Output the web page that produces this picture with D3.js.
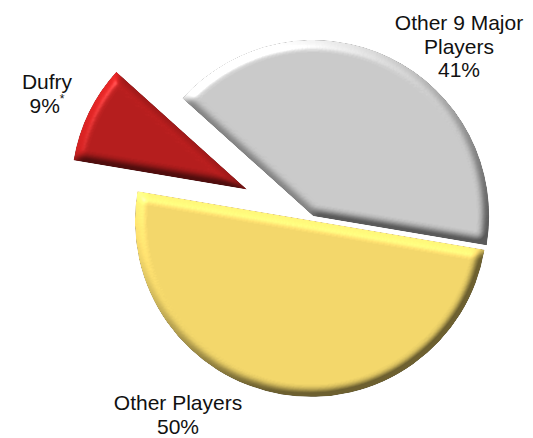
<!DOCTYPE html>
<html>
<head>
<meta charset="utf-8">
<script src="https://cdn.jsdelivr.net/npm/d3@7"></script>
<style>
  body { margin: 0; background: #fff; }
  svg text { font-family: "Liberation Sans", Arial, sans-serif; font-size: 21px; fill: #111; }
</style>
</head>
<body>
<svg id="chart" width="533" height="438"></svg>
<script>
// market share data
var categories = ["Dufry", "Other 9 Major Players", "Other Players"];
var shares = [9, 41, 50];
var labelLines = [["Dufry"], ["Other 9 Major", "Players"], ["Other Players"]];
var footnote = ["*", "", ""];

var colors = ["#b41d1d", "#c9c9c9", "#f2d66a"];
var explode = [71, 5, 0];

var cx = 311, cy = 220.5, radius = 176;
var startDeg = 279.6;

// label anchor points (first line baseline)
var labelAt = [{ x: 47, y: 89 }, { x: 459, y: 30 }, { x: 178, y: 410 }];
var lineH = 23.5;

var svg = d3.select("#chart");
var defs = svg.append("defs");

/************************* BEVEL FILTER ******************************/
var elev = 40;
var mix = 0.55; // how much of the lighting shows
var f = defs.append("filter").attr("id", "bevel")
  .attr("color-interpolation-filters", "sRGB")
  .attr("x", "-10%").attr("y", "-10%").attr("width", "120%").attr("height", "120%");
f.append("feGaussianBlur").attr("in", "SourceAlpha").attr("stdDeviation", 5).attr("result", "blur");
f.append("feDiffuseLighting").attr("in", "blur").attr("surfaceScale", 8)
  .attr("diffuseConstant", 1).attr("lighting-color", "#fff").attr("result", "diff")
  .append("feDistantLight").attr("azimuth", 235).attr("elevation", elev);
f.append("feSpecularLighting").attr("in", "blur").attr("surfaceScale", 8)
  .attr("specularConstant", 0.5).attr("specularExponent", 30).attr("lighting-color", "#fff").attr("result", "spec")
  .append("feDistantLight").attr("azimuth", 235).attr("elevation", 35);
f.append("feComposite").attr("in", "SourceGraphic").attr("in2", "diff")
  .attr("operator", "arithmetic").attr("k1", mix / Math.sin(elev * Math.PI / 180)).attr("k2", 1 - mix).attr("k3", 0).attr("k4", 0).attr("result", "lit");
f.append("feComposite").attr("in", "spec").attr("in2", "SourceAlpha").attr("operator", "in").attr("result", "specIn");
f.append("feComposite").attr("in", "lit").attr("in2", "specIn")
  .attr("operator", "arithmetic").attr("k1", 0).attr("k2", 1).attr("k3", 0.35).attr("k4", 0).attr("result", "shade");
f.append("feComposite").attr("in", "shade").attr("in2", "SourceAlpha").attr("operator", "in");

/************************* PIE ******************************/
var a0 = startDeg * Math.PI / 180;
var pie = d3.pie().sort(null).value(function (d) { return d; })
  .startAngle(a0).endAngle(a0 + 2 * Math.PI);
var arc = d3.arc().innerRadius(0).outerRadius(radius);

var slices = pie(shares);

svg.append("g")
  .attr("transform", "translate(" + cx + "," + cy + ")")
  .selectAll("path")
  .data(slices)
  .enter()
  .append("path")
  .attr("d", arc)
  .attr("fill", function (d, i) { return colors[i]; })
  .attr("filter", "url(#bevel)")
  .attr("transform", function (d, i) {
    var mid = (d.startAngle + d.endAngle) / 2;
    return "translate(" + (explode[i] * Math.sin(mid)) + "," + (-explode[i] * Math.cos(mid)) + ")";
  });

/************************* LABELS ******************************/
var labels = svg.append("g").selectAll("text")
  .data(slices)
  .enter()
  .append("text")
  .attr("text-anchor", "middle")
  .attr("x", function (d, i) { return labelAt[i].x; })
  .attr("y", function (d, i) { return labelAt[i].y; });

labels.each(function (d, i) {
  var t = d3.select(this);
  var lines = labelLines[i];
  lines.forEach(function (l, j) {
    t.append("tspan").attr("x", labelAt[i].x).attr("y", labelAt[i].y + j * lineH).text(l);
  });
  var last = t.append("tspan").attr("x", labelAt[i].x).attr("y", labelAt[i].y + lines.length * lineH);
  last.append("tspan").text(d.data + "%");
  if (footnote[i]) {
    last.append("tspan").attr("dy", -10).attr("font-size", 12).text(footnote[i]);
  }
});
</script>
</body>
</html>
